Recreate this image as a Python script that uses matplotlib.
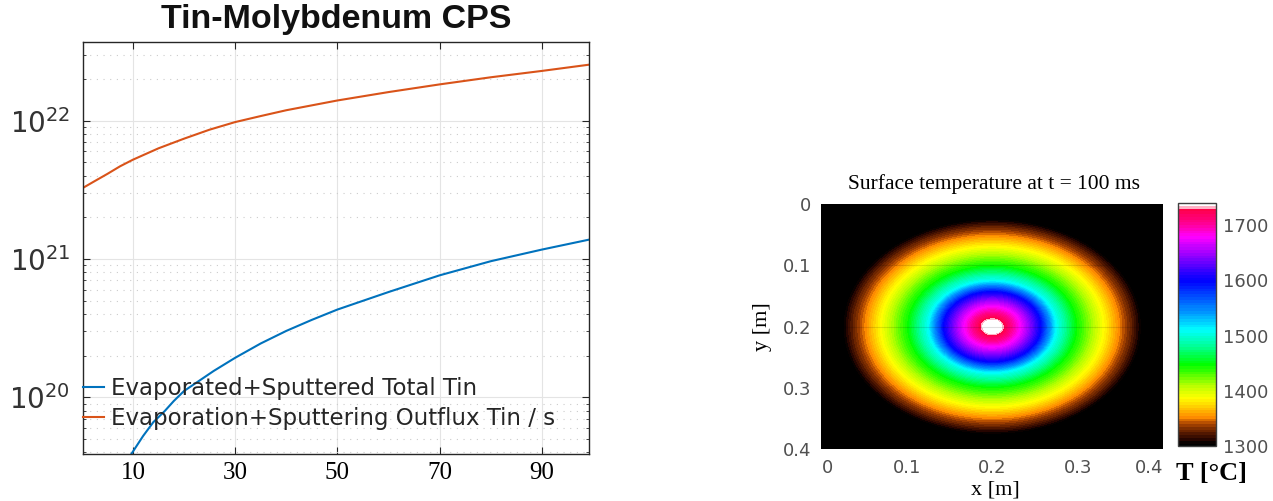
import numpy as np
import matplotlib
matplotlib.use("Agg")
import matplotlib.pyplot as plt
from matplotlib.colors import LinearSegmentedColormap
from matplotlib.ticker import FixedLocator, LogLocator, NullFormatter, FuncFormatter

# ---- Tin-Molybdenum CPS: tin released over time ----
time_outflux = [0.2, 2.5, 5, 7.5, 10, 15, 20, 25, 30, 35, 40, 50, 60, 70, 80, 90, 99.2]
outflux_tin_per_s = [3.26e21, 3.65e21, 4.12e21, 4.68e21, 5.22e21, 6.31e21, 7.41e21,
                     8.61e21, 9.77e21, 1.08e22, 1.19e22, 1.40e22, 1.61e22, 1.83e22,
                     2.06e22, 2.29e22, 2.54e22]
time_total = [9.7, 12, 14, 16.2, 18, 20, 25.8, 30, 35, 40, 45, 50, 60, 70, 80, 90, 99.2]
total_tin = [3.89e19, 5.25e19, 6.61e19, 7.93e19, 9.40e19, 1.11e20, 1.55e20, 1.93e20,
             2.45e20, 3.02e20, 3.63e20, 4.31e20, 5.77e20, 7.62e20, 9.64e20, 1.17e21,
             1.38e21]
x_ticks = [10, 30, 50, 70, 90]
y_ticks = [1e20, 1e21, 1e22]
series_labels = ["Evaporated+Sputtered Total Tin",
                 "Evaporation+Sputtering Outflux Tin / s"]

# ---- Surface temperature: radial profile around the hot spot ----
spot_centre = (0.2, 0.2)
radius_m = [0.0, 0.011, 0.035, 0.056, 0.074, 0.099, 0.130, 0.148, 0.162, 0.176, 0.30]
temperature_c = [1760, 1735, 1670, 1600, 1510, 1445, 1387, 1352, 1327, 1300, 1250]
temp_ticks = [1300, 1400, 1500, 1600, 1700]
pos_ticks = [0, 0.1, 0.2, 0.3, 0.4]

T_MIN, T_MAX = 1300, 1740

fig = plt.figure(figsize=(12.73, 5.01), dpi=100)

# ================= left panel =================
ax = fig.add_axes([0.065, 0.0938, 0.3977, 0.8224])
ax.plot(time_total, total_tin, color="#0072BD", lw=1.5, label=series_labels[0])
ax.plot(time_outflux, outflux_tin_per_s, color="#D95319", lw=1.5, label=series_labels[1])
ax.set_yscale("log")
ax.set_xlim(0.2, 99.2)
ax.set_ylim(10 ** 19.59, 10 ** 22.569)
ax.xaxis.set_major_locator(FixedLocator(x_ticks))
ax.yaxis.set_major_locator(FixedLocator(y_ticks))
ax.yaxis.set_minor_locator(LogLocator(base=10, subs=np.arange(2, 10)))
ax.yaxis.set_minor_formatter(NullFormatter())
ax.yaxis.set_major_formatter(
    FuncFormatter(lambda v, p: r"$\mathregular{10^{%d}}$" % round(np.log10(v))))
ax.grid(True, which="major", color="#e4e4e4", lw=0.8, ls="-")
ax.grid(True, which="minor", axis="y", color="#cccccc", lw=0.8, ls=(0, (1, 5)))
ax.set_axisbelow(True)
ax.tick_params(which="both", direction="in", top=True, right=True, color="#262626")
ax.tick_params(which="major", length=5)
ax.tick_params(which="minor", length=2.5)
ax.tick_params(axis="x", labelsize=18, pad=6, labelcolor="black")
ax.tick_params(axis="y", labelsize=20, pad=9, labelcolor="#333333")
for lab in ax.get_xticklabels():
    lab.set_family("Liberation Serif")
for s in ax.spines.values():
    s.set_color("#262626")
    s.set_linewidth(1.0)

leg = ax.legend(loc="upper left", bbox_to_anchor=(0.0, 0.186), frameon=False,
                fontsize=16.5, handlelength=0.92, handletextpad=0.3,
                borderpad=0, borderaxespad=0, labelspacing=0.28)
for t in leg.get_texts():
    t.set_color("#262626")

fig.text(0.264, 0.962, "Tin-Molybdenum CPS", ha="center", va="center",
         fontfamily="Liberation Sans", fontweight="bold", fontsize=24.5, color="#111111")

# ================= right panel =================
anchors = [(1300, "#000000"), (1305, "#000000"), (1312, "#260500"), (1325, "#5c1c00"),
           (1340, "#b04800"), (1352, "#ff8c00"), (1370, "#ffc800"), (1387, "#ffff00"),
           (1410, "#b4ff00"), (1447, "#00ff00"), (1480, "#00ff90"), (1510, "#00ffff"),
           (1545, "#0090ff"), (1600, "#0000ff"), (1640, "#8000ff"), (1679, "#ff00ff"),
           (1705, "#ff0090"), (1731, "#ff0040"), (1734, "#ffffff"), (1740, "#ffffff")]
cmap = LinearSegmentedColormap.from_list(
    "spot", [((t - T_MIN) / (T_MAX - T_MIN), c) for t, c in anchors])

ax2 = fig.add_axes([0.6453, 0.1028, 0.2683, 0.49])
gx = np.linspace(0, 0.4, 401)
gy = np.linspace(0, 0.4, 401)
X, Y = np.meshgrid(gx, gy)
R = np.hypot(X - spot_centre[0], Y - spot_centre[1])
T = np.clip(np.interp(R, radius_m, temperature_c), T_MIN, T_MAX)
levels = np.arange(T_MIN, T_MAX + 1, 5)
cs = ax2.contourf(X, Y, T, levels=levels, cmap=cmap, vmin=T_MIN, vmax=T_MAX)
for yl in (0.1, 0.2):
    ax2.axhline(yl, color="black", alpha=0.12, lw=0.8)
ax2.set_xlim(0, 0.4)
ax2.set_ylim(0.4, 0)
ax2.set_xticks(pos_ticks, labels=[f"{v:g}" for v in pos_ticks])
ax2.set_yticks(pos_ticks, labels=[f"{v:g}" for v in pos_ticks])
ax2.tick_params(length=0, labelsize=13, labelcolor="#505050")
ax2.tick_params(axis="x", pad=7)
ax2.tick_params(axis="y", pad=7.5)
xl = ax2.get_xticklabels()
xl[0].set_ha("left")
xl[-1].set_ha("right")
for s in ax2.spines.values():
    s.set_visible(False)

cax = fig.add_axes([0.9251, 0.1092, 0.0299, 0.4856])
cb = fig.colorbar(cs, cax=cax, ticks=temp_ticks)
cb.outline.set_edgecolor("#404040")
cb.outline.set_linewidth(1.0)
cax.tick_params(length=0, labelsize=13, labelcolor="#505050", pad=5)

fig.text(0.781, 0.633, "Surface temperature at t = 100 ms", ha="center", va="center",
         fontfamily="Liberation Serif", fontsize=15.5)
fig.text(0.7816, 0.022, "x [m]", ha="center", va="center",
         fontfamily="Liberation Serif", fontsize=16)
fig.text(0.5986, 0.349, "y [m]", ha="center", va="center", rotation=90,
         fontfamily="Liberation Serif", fontsize=16)
fig.text(0.952, 0.054, "T [°C]", ha="center", va="center",
         fontfamily="Liberation Serif", fontweight="bold", fontsize=19)

fig.savefig("out.png", dpi=100)
